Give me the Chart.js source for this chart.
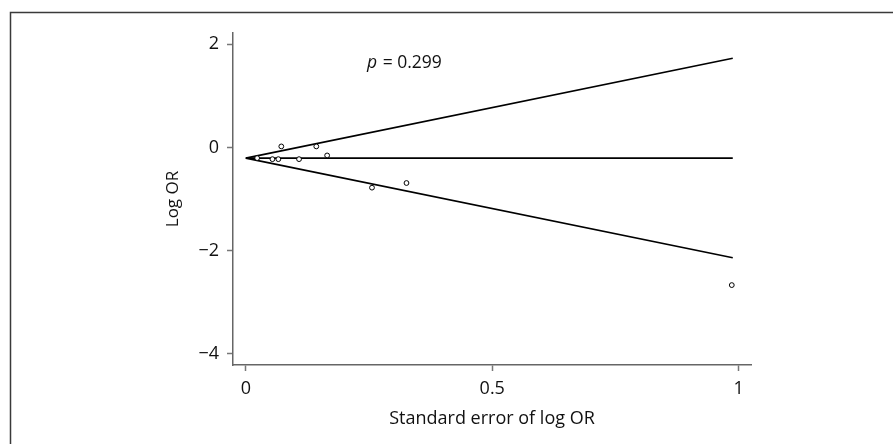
<!DOCTYPE html>
<html><head><meta charset="utf-8">
<script src="https://cdn.jsdelivr.net/npm/chart.js@4/dist/chart.umd.min.js"></script>
<style>html,body{margin:0;padding:0;background:#fff}#wrap{width:893px;height:444px;position:relative}</style>
</head><body><div id="wrap"><canvas id="c" width="893" height="444"></canvas></div>
<script>
// Study points: standard error of log OR and log OR
const seValues = [0.023, 0.054, 0.066, 0.072, 0.108, 0.143, 0.165, 0.256, 0.326, 0.986];
const logOR    = [-0.207, -0.227, -0.227, 0.02, -0.227, 0.02, -0.155, -0.78, -0.69, -2.67];
// Funnel lines: x positions and y values
const funnelX      = [0, 0.988];
const funnelUpper  = [-0.207, 1.73];
const funnelCenter = [-0.207, -0.207];
const funnelLower  = [-0.207, -2.14];
const xTicks = [0, 0.5, 1];
const yTicks = [-4, -2, 0, 2];
const pText = "0.299";

const FONT = "'Open Sans', 'Noto Sans', sans-serif";
const toPts = (xs, ys) => xs.map((x, i) => ({x: x, y: ys[i]}));
const lineDs = (ys) => ({type: 'line', data: toPts(funnelX, ys), borderColor: '#000', borderWidth: 1.6,
  pointRadius: 0, fill: false, tension: 0, order: 2});

const frame = {
  id: 'frame',
  afterDraw(chart) {
    const ctx = chart.ctx;
    ctx.save();
    ctx.strokeStyle = '#3a3a3a'; ctx.lineWidth = 1.5;
    ctx.beginPath();
    ctx.moveTo(10.5, 444); ctx.lineTo(10.5, 12.5); ctx.lineTo(893, 12.5);
    ctx.stroke();
    // p-value annotation
    ctx.fillStyle = '#111'; ctx.textBaseline = 'middle'; ctx.textAlign = 'left';
    const x0 = 367, y0 = 63;
    ctx.font = 'italic 17.5px ' + FONT;
    ctx.fillText('p', x0, y0);
    const w = ctx.measureText('p').width;
    ctx.font = '17.5px ' + FONT;
    ctx.fillText(' = ' + pText, x0 + w + 1, y0);
    ctx.restore();
  }
};

new Chart(document.getElementById('c'), {
  type: 'scatter',
  data: { datasets: [
    lineDs(funnelUpper), lineDs(funnelCenter), lineDs(funnelLower),
    {type: 'scatter', data: toPts(seValues, logOR), pointRadius: 2.4, pointBorderWidth: 1,
     pointBorderColor: '#000', pointBackgroundColor: '#fff', order: 1}
  ]},
  options: {
    responsive: false, animation: false, devicePixelRatio: 1,
    layout: {padding: {left: 155, top: 33, right: 142, bottom: 10}},
    plugins: {legend: {display: false}, tooltip: {enabled: false}},
    scales: {
      x: {
        type: 'linear', min: -0.026, max: 1.025,
        afterBuildTicks: s => { s.ticks = xTicks.map(v => ({value: v})); },
        afterFit: s => { s.height = 69; },
        grid: {display: true, drawOnChartArea: false, tickLength: 6, color: '#777', tickWidth: 1.5},
        border: {display: true, color: '#666', width: 1.5},
        ticks: {color: '#111', font: {family: FONT, size: 18}, padding: 7, maxRotation: 0,
                callback: v => String(v)},
        title: {display: true, text: 'Standard error of log OR', color: '#111',
                font: {family: FONT, size: 18}, padding: {top: 0, bottom: 4}}
      },
      y: {
        type: 'linear', min: -4.22, max: 2.22,
        afterBuildTicks: s => { s.ticks = yTicks.map(v => ({value: v})); },
        afterFit: s => { s.width = 78; },
        grid: {display: true, drawOnChartArea: false, tickLength: 6, color: '#777', tickWidth: 1.5},
        border: {display: true, color: '#666', width: 1.5},
        ticks: {color: '#111', font: {family: FONT, size: 18}, padding: 8,
                callback: v => String(v).replace('-', '\u2212')},
        title: {display: true, text: 'Log OR', color: '#111',
                font: {family: FONT, size: 17}, padding: {top: 8, bottom: 0}}
      }
    }
  },
  plugins: [frame]
});
</script></body></html>
